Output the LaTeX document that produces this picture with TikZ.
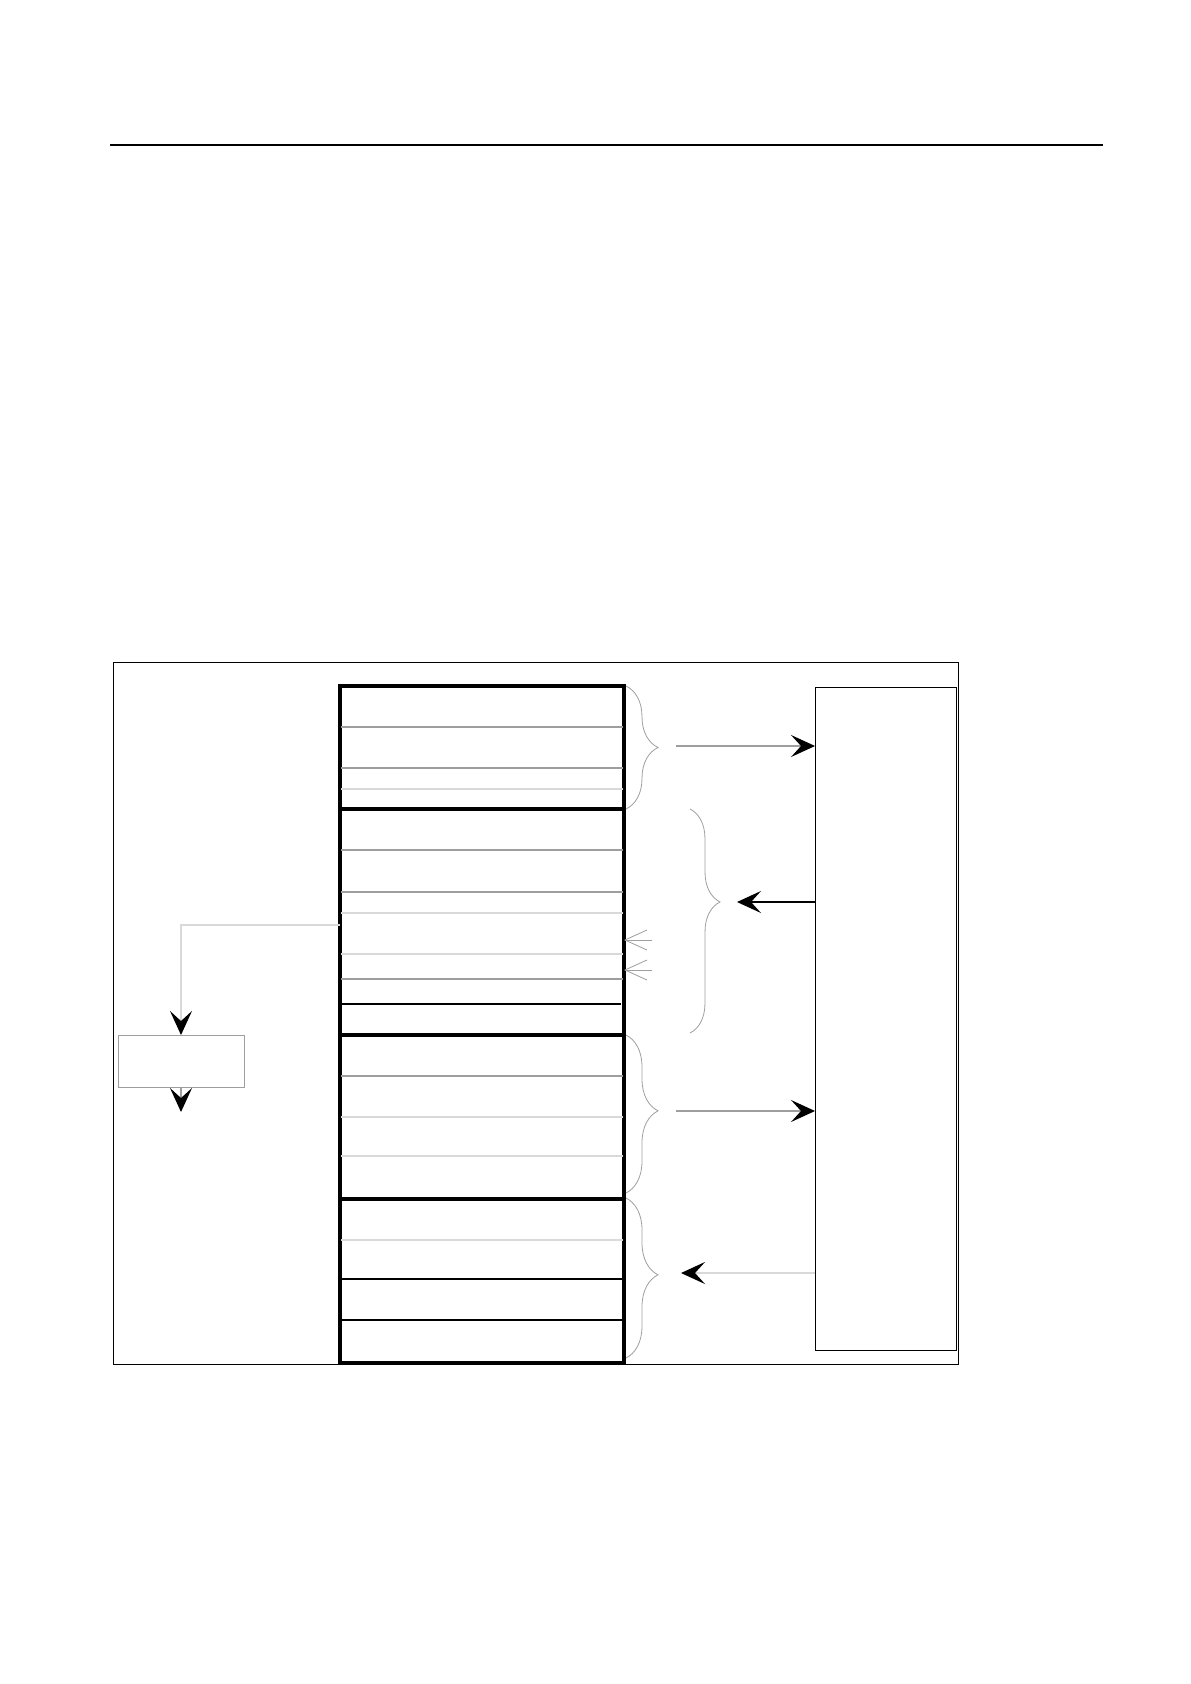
\documentclass[tikz,border=0pt]{standalone}
\usepackage{xcolor}
\usetikzlibrary{arrows.meta,decorations.pathreplacing}
\definecolor{rowgray}{gray}{0.62}
\definecolor{rowlight}{gray}{0.85}
\begin{document}
\begin{tikzpicture}[x=0.5pt,y=-0.5pt,
    box/.style={draw,line width=0.5pt,inner sep=0pt,outer sep=0pt},
    sect/.style={draw,line width=1.7pt,inner sep=0pt,outer sep=0pt,minimum width=142pt},
    brc/.style={rowgray,line width=0.4pt,decorate,decoration={brace,amplitude=#1}},
    tip/.style={-{Stealth[length=12pt,width=11pt,inset=5pt,color=black]}}]
  \useasboundingbox (0,0) rectangle (1190,1684);
  \draw[line width=0.7pt] (110,145) -- (1103,145);
  \draw[line width=0.5pt] (113,662) rectangle (958,1364);
  % stack of sections
  \node[sect,minimum height=61.5pt] (s1) at (482,747.5) {};
  \node[sect,minimum height=113pt] (s2) at (482,922) {};
  \node[sect,minimum height=82pt] (s3) at (482,1117) {};
  \node[sect,minimum height=82pt] (s4) at (482,1281) {};
  \foreach \y/\c in {727/rowgray,768/rowgray,789/rowlight,850/rowgray,892/rowgray,
      913/rowlight,954/rowlight,979/rowgray,1076/rowgray,1117/rowlight,1156/rowlight,
      1240/rowlight,1279/black,1320/black}
    \draw[\c,line width=0.6pt] (341,\y) -- (623,\y);
  \draw[line width=0.6pt] (341,1004) -- (621,1004);
  % outer boxes
  \node[box,minimum width=70.5pt,minimum height=331.5pt] (ext) at (885.5,1018.5) {};
  \node[box,draw=rowgray,minimum width=63pt,minimum height=26pt] (dec) at (181,1061) {};
  % braces
  \draw[brc=16pt] (626,686) -- (626,809);
  \draw[brc=15pt,decoration={aspect=0.415}] (690,809) -- (690,1033);
  \draw[brc=16pt,decoration={aspect=0.48}] (626,1035) -- (626,1193);
  \draw[brc=16pt,decoration={aspect=0.48}] (626,1198) -- (626,1358);
  \coordinate (b1) at (676,746);
  \coordinate (b2) at (737,902);
  \coordinate (b3) at (676,1111);
  \coordinate (b4) at (681,1273);
  \draw[rowgray,line width=0.6pt,tip] (b1) -- (b1 -| ext.west);
  \draw[line width=0.6pt,tip] (b2 -| ext.west) -- (b2);
  \draw[rowgray,line width=0.6pt,tip] (b3) -- (b3 -| ext.west);
  \draw[rowlight,line width=0.8pt,tip] (b4 -| ext.west) -- (b4);
  % small arrows into the stack
  \coordinate (a1) at (652,940);
  \coordinate (a2) at (652,970);
  \draw[rowgray,line width=0.4pt,-{Straight Barb[length=11pt,width=10pt]}] (a1) -- (a1 -| s2.east);
  \draw[rowgray,line width=0.4pt,-{Straight Barb[length=11pt,width=10pt]}] (a2) -- (a2 -| s2.east);
  % left branch
  \coordinate (lf) at (340,925);
  \coordinate (out) at (181,1112);
  \draw[rowlight,line width=0.6pt,tip] (lf) -| (dec.north);
  \draw[rowgray,line width=0.6pt,tip] (dec.south) -- (out);
\end{tikzpicture}
\end{document}
